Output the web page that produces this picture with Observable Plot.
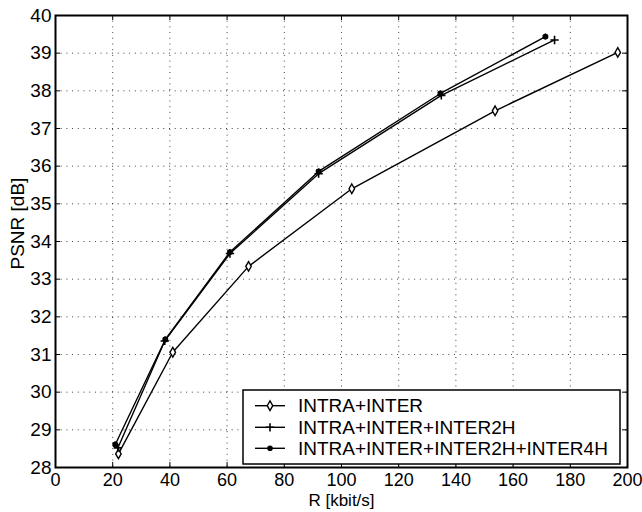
<!DOCTYPE html>
<html>
<head>
<meta charset="utf-8">
<script src="https://cdn.jsdelivr.net/npm/d3@7"></script>
<script src="https://cdn.jsdelivr.net/npm/@observablehq/plot@0.6"></script>
<style>
  body { margin: 0; background: #fff; }
  #wrap { position: relative; width: 642px; height: 512px; font-family: "Liberation Sans", Arial, sans-serif; }
  #legend { position: absolute; left: 0; top: 0; }
</style>
</head>
<body>
<div id="wrap"></div>
<script>
const xTicks = [0, 20, 40, 60, 80, 100, 120, 140, 160, 180, 200];
const yTicks = [28, 29, 30, 31, 32, 33, 34, 35, 36, 37, 38, 39, 40];

const seriesNames = ["INTRA+INTER", "INTRA+INTER+INTER2H", "INTRA+INTER+INTER2H+INTER4H"];

const rate1 = [22.0, 41.0, 67.5, 103.6, 153.7, 196.6];
const psnr1 = [28.36, 31.06, 33.34, 35.40, 37.47, 39.02];

const rate2 = [21.8, 38.2, 61.0, 92.0, 134.9, 174.5];
const psnr2 = [28.52, 31.36, 33.68, 35.80, 37.88, 39.35];

const rate3 = [20.9, 38.4, 61.0, 92.0, 134.6, 171.3];
const psnr3 = [28.61, 31.40, 33.72, 35.86, 37.93, 39.44];

const toRows = (r, p) => r.map((v, i) => ({x: v, y: p[i]}));
const s1 = toRows(rate1, psnr1);
const s2 = toRows(rate2, psnr2);
const s3 = toRows(rate3, psnr3);

const W = 642, H = 512, mL = 55, mR = 15, mT = 15, mB = 45;
const innerW = W - mL - mR, innerH = H - mT - mB;
const tick = 5;
const fs = 19;
const font = "Liberation Sans, Arial, Helvetica, sans-serif";

const chart = Plot.plot({
  width: W, height: H,
  marginLeft: mL, marginRight: mR, marginTop: mT, marginBottom: mB,
  style: {fontFamily: font, fontSize: fs + "px", color: "#000", background: "#fff"},
  x: {domain: [0, 200], axis: null},
  y: {domain: [28, 40], axis: null},
  marks: [
    Plot.ruleX(xTicks.slice(1, -1), {x: d => d, stroke: "#000", strokeOpacity: 0.75, strokeWidth: 1, strokeDasharray: "1,4.7"}),
    Plot.ruleY(yTicks.slice(1, -1), {y: d => d, stroke: "#000", strokeOpacity: 0.75, strokeWidth: 1, strokeDasharray: "1,4.7"}),
    Plot.ruleX(xTicks, {x: d => d, insetTop: innerH - tick, strokeWidth: 1}),
    Plot.ruleX(xTicks, {x: d => d, insetBottom: innerH - tick, strokeWidth: 1}),
    Plot.ruleY(yTicks, {y: d => d, insetRight: innerW - tick, strokeWidth: 1}),
    Plot.ruleY(yTicks, {y: d => d, insetLeft: innerW - tick, strokeWidth: 1}),
    Plot.axisX({ticks: xTicks, tickSize: 0, tickPadding: 6, fontSize: 18, label: null, tickFormat: d => String(d)}),
    Plot.axisY({ticks: yTicks, tickSize: 0, tickPadding: 4, fontSize: fs, label: null, tickFormat: d => String(d)}),
    Plot.line(s1, {x: "x", y: "y", stroke: "#000", strokeWidth: 1.4}),
    Plot.line(s2, {x: "x", y: "y", stroke: "#000", strokeWidth: 1.4}),
    Plot.line(s3, {x: "x", y: "y", stroke: "#000", strokeWidth: 1.4}),
    Plot.dot(s1, {x: "x", y: "y", symbol: "diamond", r: 2.9, fill: "#fff", stroke: "#000", strokeWidth: 1.4}),
    Plot.dot(s2, {x: "x", y: "y", symbol: "plus", r: 2.8, stroke: "#000", strokeWidth: 1.6}),
    Plot.dot(s3, {x: "x", y: "y", symbol: "circle", r: 2.9, fill: "#000", stroke: "none"}),
    Plot.dot(s3, {x: "x", y: "y", symbol: "asterisk", r: 2.8, stroke: "#000", strokeWidth: 1.4}),
    Plot.frame({stroke: "#000", strokeWidth: 2}),
    Plot.text(["R [kbit/s]"], {frameAnchor: "bottom", dy: 33, lineAnchor: "middle", fontSize: 17, text: d => d}),
    Plot.text(["PSNR [dB]"], {frameAnchor: "left", dx: -38, dy: 28, rotate: -90, lineAnchor: "middle", fontSize: fs, text: d => d})
  ]
});
document.getElementById("wrap").appendChild(chart);

// Legend overlay
const lg = d3.select("#wrap").append("svg").attr("id", "legend")
  .attr("width", W).attr("height", H).style("pointer-events", "none");
const box = {x: 243, y: 390, w: 377, h: 74};
lg.append("rect").attr("x", box.x).attr("y", box.y).attr("width", box.w).attr("height", box.h)
  .attr("fill", "#fff").attr("stroke", "#000").attr("stroke-width", 1.5);
const rowY = [405.7, 427.3, 448.3];
seriesNames.forEach((name, i) => {
  const g = lg.append("g");
  const y = rowY[i];
  g.append("line").attr("x1", 255).attr("x2", 285).attr("y1", y).attr("y2", y).attr("stroke", "#000").attr("stroke-width", 1.4);
  if (i === 0) {
    g.append("path").attr("d", d3.symbol(d3.symbolDiamond, Math.PI * 2.9 * 2.9)()).attr("transform", `translate(270,${y})`)
      .attr("fill", "#fff").attr("stroke", "#000").attr("stroke-width", 1.4);
  } else if (i === 1) {
    g.append("path").attr("d", d3.symbol(d3.symbolPlus, Math.PI * 2.8 * 2.8)()).attr("transform", `translate(270,${y})`)
      .attr("fill", "none").attr("stroke", "#000").attr("stroke-width", 1.6);
  } else {
    g.append("circle").attr("cx", 270).attr("cy", y).attr("r", 2.8).attr("fill", "#000");
  }
  g.append("text").attr("x", 298).attr("y", y).attr("dy", "0.35em")
    .attr("font-family", font).attr("font-size", fs).attr("fill", "#000").text(name);
});
</script>
</body>
</html>
